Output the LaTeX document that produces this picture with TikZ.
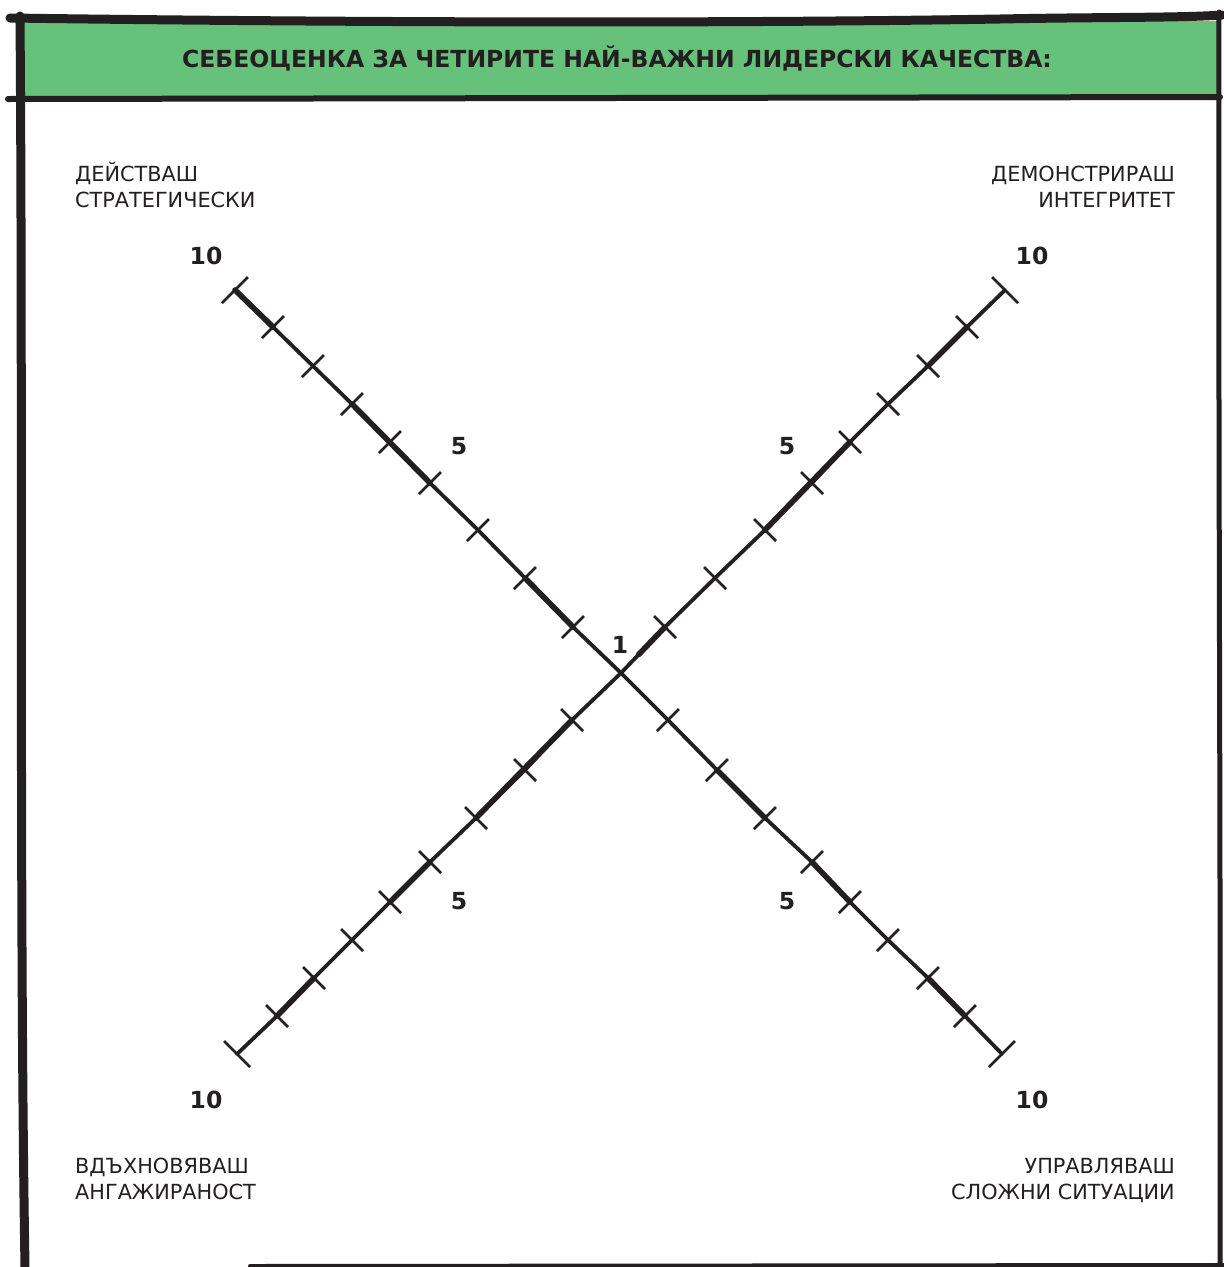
\documentclass[tikz,border=0pt]{standalone}
\usepackage{fontspec}
\usetikzlibrary{calc}
\setmainfont{DejaVu Sans}
\definecolor{hdrgreen}{RGB}{102,193,122}
\definecolor{ink}{RGB}{35,31,32}
\begin{document}
\begin{tikzpicture}[x=1pt,y=-1pt,
  border/.style={draw=ink, line cap=round, line join=round},
  axisline/.style={draw=ink, line width=3.8pt, line cap=round, line join=round},
  heavy/.style={draw=ink, line width=5.6pt, line cap=round},
  tickmark/.style={draw=ink, line width=2.7pt, line cap=butt},
  num/.style={font=\fontsize{23.5}{24}\selectfont\bfseries, text=ink, inner sep=0pt},
  lab/.style={font=\fontsize{20.8}{25}\selectfont, text=ink, inner sep=0pt},
  titletext/.style={font=\fontsize{23.5}{28}\selectfont\bfseries, text=ink, inner sep=0pt}
]
\useasboundingbox (0,0) rectangle (1224,1267);
\fill[white] (0,0) rectangle (1224,1267);

% header band
\fill[hdrgreen] (20,21) rectangle (1219,98);
\node[titletext, anchor=base] (title) at (617,67) {СЕБЕОЦЕНКА ЗА ЧЕТИРИТЕ НАЙ-ВАЖНИ ЛИДЕРСКИ КАЧЕСТВА:};

% frame
\draw[border, line width=9pt] (10,18) .. controls (300,22) and (700,24) .. (1000,19) .. controls (1100,17) and (1180,18) .. (1222,15);
\draw[border, line width=6pt] (8,99) -- (1220,97);
\draw[border, line width=9pt] (20,16) .. controls (23,400) and (19,900) .. (25,1267);
\draw[border, line width=5pt] (1219,12) .. controls (1218,400) and (1221,900) .. (1220,1267);
\draw[border, line width=4pt] (250,1266) -- (1224,1265);

% axes
\coordinate (C) at (621,673);
\foreach \n/\x/\y in {2/573/627,3/525/578,4/478/530,5/430/483,6/390/442,7/352/404,8/313/366,9/273/327,10/235/290}
  \coordinate (tl\n) at (\x,\y);
\foreach \n/\x/\y in {2/665/627,3/715/578,4/765/530,5/812/483,6/850/442,7/888/404,8/928/366,9/967/327,10/1005/290}
  \coordinate (tr\n) at (\x,\y);
\foreach \n/\x/\y in {2/572/720,3/525/770,4/476/818,5/430/862,6/390/902,7/352/940,8/314/978,9/277/1016,10/237/1054}
  \coordinate (bl\n) at (\x,\y);
\foreach \n/\x/\y in {2/668/720,3/717/770,4/765/818,5/812/862,6/850/902,7/888/940,8/928/978,9/965/1016,10/1002/1054}
  \coordinate (br\n) at (\x,\y);

\draw[axisline] (C) -- (tl2) -- (tl3) -- (tl4) -- (tl5) -- (tl6) -- (tl7) -- (tl8) -- (tl9) -- (tl10);
\draw[axisline] (C) -- (tr2) -- (tr3) -- (tr4) -- (tr5) -- (tr6) -- (tr7) -- (tr8) -- (tr9) -- (tr10);
\draw[axisline] (C) -- (bl2) -- (bl3) -- (bl4) -- (bl5) -- (bl6) -- (bl7) -- (bl8) -- (bl9) -- (bl10);
\draw[axisline] (C) -- (br2) -- (br3) -- (br4) -- (br5) -- (br6) -- (br7) -- (br8) -- (br9) -- (br10);

% hand-drawn thicker strokes
\draw[heavy] (tl10) -- (tl9);
\draw[heavy] (tl7) -- (tl5);
\draw[heavy] (tl3) -- (tl2);
\draw[heavy] (tr9) -- (tr8);
\draw[heavy] (tr6) -- (tr4);
\draw[heavy] (tr2) -- ($(tr2)!0.6!(C)$);
\draw[heavy] (bl2) -- (bl4);
\draw[heavy] (bl5) -- (bl6);
\draw[heavy] (bl8) -- (bl9);
\draw[heavy] (br3) -- (br4);
\draw[heavy] (br5) -- (br6);
\draw[heavy] (br8) -- (br9);

% ticks
\foreach \n in {2,...,9} {
  \draw[tickmark] ([shift={(-11,11)}]tl\n) -- ([shift={(11,-11)}]tl\n);
  \draw[tickmark] ([shift={(-11,11)}]br\n) -- ([shift={(11,-11)}]br\n);
  \draw[tickmark] ([shift={(-11,-11)}]tr\n) -- ([shift={(11,11)}]tr\n);
  \draw[tickmark] ([shift={(-11,-11)}]bl\n) -- ([shift={(11,11)}]bl\n);
}
\draw[tickmark] ([shift={(-13,13)}]tl10) -- ([shift={(13,-13)}]tl10);
\draw[tickmark] ([shift={(-13,13)}]br10) -- ([shift={(13,-13)}]br10);
\draw[tickmark] ([shift={(-13,-13)}]tr10) -- ([shift={(13,13)}]tr10);
\draw[tickmark] ([shift={(-13,-13)}]bl10) -- ([shift={(13,13)}]bl10);

% numbers
\node[num] (n1) at (620,645) {1};
\node[num] (ntl5) at (459,446) {5};
\node[num] (ntr5) at (787,446) {5};
\node[num] (nbl5) at (459,901) {5};
\node[num] (nbr5) at (787,901) {5};
\node[num] (ntl10) at (206,256) {10};
\node[num] (ntr10) at (1032,256) {10};
\node[num] (nbl10) at (206,1100) {10};
\node[num] (nbr10) at (1032,1100) {10};

% corner labels
\node[lab, anchor=base west] (tla) at (75,181) {ДЕЙСТВАШ};
\node[lab, anchor=base west] (tlb) at (75,207) {СТРАТЕГИЧЕСКИ};
\node[lab, anchor=base east] (tra) at (1175,181) {ДЕМОНСТРИРАШ};
\node[lab, anchor=base east] (trb) at (1175,207) {ИНТЕГРИТЕТ};
\node[lab, anchor=base west] (bla) at (75,1173) {ВДЪХНОВЯВАШ};
\node[lab, anchor=base west] (blb) at (75,1199) {АНГАЖИРАНОСТ};
\node[lab, anchor=base east] (bra) at (1175,1173) {УПРАВЛЯВАШ};
\node[lab, anchor=base east] (brb) at (1175,1199) {СЛОЖНИ СИТУАЦИИ};
\end{tikzpicture}
\end{document}
